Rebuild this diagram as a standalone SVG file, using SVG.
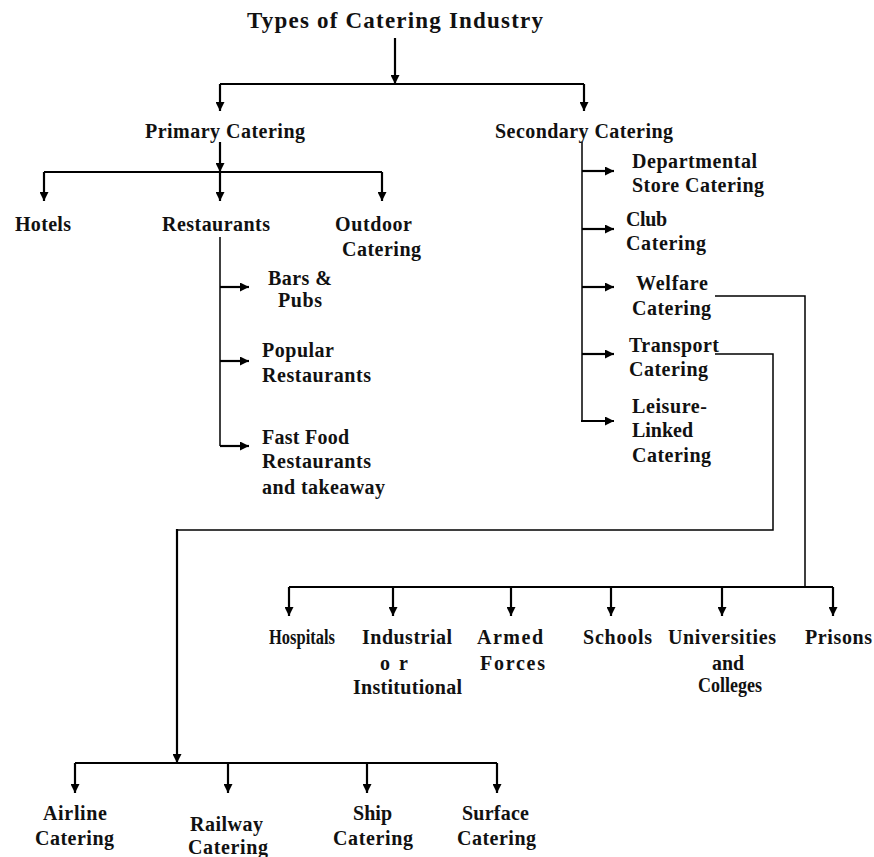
<svg xmlns="http://www.w3.org/2000/svg" width="874" height="857" viewBox="0 0 874 857">
<style>
text{font-family:"Liberation Serif","Times New Roman",serif;font-weight:bold;font-size:20px;fill:#111}
.title{font-size:23px}
.sq{font-size:20px}
.ln{fill:none;stroke:#000;stroke-width:2}
.thin{fill:none;stroke:#000;stroke-width:1.5}
.ar{fill:none;stroke:#000;stroke-width:2.2;marker-end:url(#ah)}
</style>
<defs>
<marker id="ah" viewBox="0 0 10 10" refX="10" refY="5" markerWidth="11" markerHeight="9" orient="auto" markerUnits="userSpaceOnUse">
<path d="M0,0 L10,5 L0,10 z" fill="#000"/>
</marker>
</defs>
<rect width="874" height="857" fill="#fff"/>
<g id="connectors">
<path class="ar" d="M395,38 V84"/>
<path class="ln" d="M220,84 H584"/>
<path class="ar" d="M220,84 V111"/>
<path class="ar" d="M584,84 V111"/>
<path class="ar" d="M220,142 V172"/>
<path class="ln" d="M44,172 H382"/>
<path class="ar" d="M44,172 V201"/>
<path class="ar" d="M220,172 V201"/>
<path class="ar" d="M382,172 V201"/>
<path class="thin" d="M220,237 V446"/>
<path class="ar" d="M220,287 H249"/>
<path class="ar" d="M220,361 H249"/>
<path class="ar" d="M220,446 H249"/>
<path class="thin" d="M582,142 V421"/>
<path class="ar" d="M582,171 H614"/>
<path class="ar" d="M582,229 H614"/>
<path class="ar" d="M582,287 H614"/>
<path class="ar" d="M582,354 H614"/>
<path class="ar" d="M581,421 H614"/>
<path class="thin" d="M715,296 H805 V587"/>
<path class="ln" d="M289,587 H833"/>
<path class="ar" d="M289,587 V616"/>
<path class="ar" d="M393,587 V616"/>
<path class="ar" d="M511,587 V616"/>
<path class="ar" d="M611,587 V616"/>
<path class="ar" d="M722,587 V616"/>
<path class="ar" d="M833,587 V616"/>
<path class="thin" d="M715,354 H773 V530 H177"/>
<path class="ar" d="M177,529 V763"/>
<path class="ln" d="M75,763 H497"/>
<path class="ar" d="M75,763 V793"/>
<path class="ar" d="M228,763 V793"/>
<path class="ar" d="M367,763 V793"/>
<path class="ar" d="M497,763 V793"/>
</g>
<g id="title"><text class="title" x="247" y="28" textLength="296">Types of Catering Industry</text></g>
<g id="primary"><text x="145" y="138" textLength="160">Primary Catering</text></g>
<g id="secondary"><text x="495" y="138" textLength="178">Secondary Catering</text></g>
<g id="hotels"><text x="15" y="231" textLength="56">Hotels</text></g>
<g id="restaurants"><text x="162" y="231" textLength="108">Restaurants</text></g>
<g id="outdoor"><text x="335" y="231" textLength="77">Outdoor</text><text x="342" y="256" textLength="79">Catering</text></g>
<g id="bars"><text x="268" y="285" textLength="64">Bars &amp;</text><text x="278" y="307" textLength="44">Pubs</text></g>
<g id="popular"><text x="262" y="357" textLength="72">Popular</text><text x="262" y="382" textLength="109">Restaurants</text></g>
<g id="fastfood"><text x="262" y="444" textLength="87">Fast Food</text><text x="262" y="468" textLength="109">Restaurants</text><text x="262" y="494" textLength="123">and takeaway</text></g>
<g id="departmental"><text x="632" y="168" textLength="125">Departmental</text><text x="632" y="192" textLength="132">Store Catering</text></g>
<g id="club"><text x="626" y="226" textLength="41">Club</text><text x="626" y="250" textLength="80">Catering</text></g>
<g id="welfare"><text x="636" y="290" textLength="72">Welfare</text><text x="632" y="315" textLength="79">Catering</text></g>
<g id="transport"><text x="629" y="352" textLength="90">Transport</text><text x="629" y="376" textLength="79">Catering</text></g>
<g id="leisure"><text x="632" y="413" textLength="75">Leisure-</text><text x="632" y="437" textLength="61">Linked</text><text x="632" y="462" textLength="79">Catering</text></g>
<g id="hospitals"><text x="269" y="644" textLength="66" lengthAdjust="spacingAndGlyphs">Hospitals</text></g>
<g id="industrial"><text x="362" y="644" textLength="90">Industrial</text><text x="380" y="670" textLength="28">or</text><text x="353" y="694" textLength="109">Institutional</text></g>
<g id="armed"><text x="477" y="644" textLength="66">Armed</text><text x="480" y="670" textLength="65">Forces</text></g>
<g id="schools"><text x="583" y="644" textLength="69">Schools</text></g>
<g id="universities"><text x="668" y="644" textLength="108">Universities</text><text x="712" y="670" textLength="32" lengthAdjust="spacingAndGlyphs">and</text><text x="698" y="692" textLength="64" lengthAdjust="spacingAndGlyphs">Colleges</text></g>
<g id="prisons"><text x="805" y="644" textLength="67">Prisons</text></g>
<g id="airline"><text x="43" y="820" textLength="64">Airline</text><text x="35" y="845" textLength="79">Catering</text></g>
<g id="railway"><text x="190" y="831" textLength="73">Railway</text><text x="188" y="854" textLength="80">Catering</text></g>
<g id="ship"><text x="353" y="820" textLength="39">Ship</text><text x="333" y="845" textLength="80">Catering</text></g>
<g id="surface"><text x="462" y="820" textLength="67">Surface</text><text x="457" y="845" textLength="79">Catering</text></g>
</svg>
